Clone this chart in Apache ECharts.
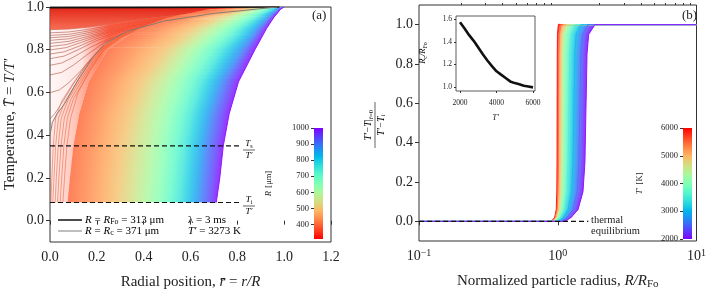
<!DOCTYPE html>
<html>
<head>
<meta charset="utf-8">
<script src="https://cdn.jsdelivr.net/npm/echarts@6/dist/echarts.min.js"></script>
<style>
  html, body { margin: 0; padding: 0; background: #fff; }
  #chart { width: 709px; height: 295px; }
</style>
</head>
<body>
<div id="chart"></div>
<script>
// ---------- panel (a): temperature profiles, T/T' vs r/R ----------
// temperature levels at which the radial position of each profile was read
const levelsT = [0.085, 0.2, 0.35, 0.5, 0.65, 0.8, 0.9, 0.95, 0.99, 1.0];
// particle radius (um) of each read profile, and its r/R at the levels above
const profileR = [395, 410, 430, 460, 500, 550, 600, 650, 700, 750, 800, 850, 900, 950, 1000];
const profileRadial = [
  [0.075, 0.085, 0.10, 0.125, 0.165, 0.245, 0.38, 0.50, 0.68, 0.88],
  [0.11, 0.12, 0.135, 0.16, 0.205, 0.29, 0.43, 0.55, 0.71, 0.89],
  [0.155, 0.165, 0.18, 0.205, 0.255, 0.345, 0.48, 0.60, 0.745, 0.90],
  [0.215, 0.225, 0.24, 0.265, 0.315, 0.41, 0.54, 0.65, 0.78, 0.915],
  [0.285, 0.295, 0.31, 0.34, 0.39, 0.49, 0.61, 0.71, 0.82, 0.93],
  [0.355, 0.365, 0.38, 0.405, 0.455, 0.55, 0.665, 0.755, 0.855, 0.94],
  [0.415, 0.425, 0.44, 0.465, 0.51, 0.60, 0.71, 0.79, 0.88, 0.95],
  [0.465, 0.475, 0.49, 0.515, 0.56, 0.645, 0.75, 0.825, 0.905, 0.96],
  [0.51, 0.52, 0.535, 0.56, 0.605, 0.69, 0.79, 0.855, 0.925, 0.97],
  [0.55, 0.56, 0.575, 0.60, 0.645, 0.73, 0.82, 0.88, 0.94, 0.975],
  [0.585, 0.595, 0.61, 0.635, 0.68, 0.765, 0.85, 0.90, 0.955, 0.98],
  [0.62, 0.63, 0.645, 0.67, 0.715, 0.80, 0.875, 0.92, 0.965, 0.985],
  [0.65, 0.66, 0.675, 0.70, 0.745, 0.83, 0.895, 0.935, 0.975, 0.99],
  [0.685, 0.695, 0.71, 0.735, 0.775, 0.85, 0.91, 0.945, 0.98, 0.995],
  [0.71, 0.725, 0.74, 0.765, 0.805, 0.875, 0.925, 0.955, 0.985, 1.0]
];
// profiles with a heated centre (R < Rc), starting at r = 0
const hotProfiles = [
  [[0, 0.894], [0.08, 0.897], [0.16, 0.905], [0.25, 0.92], [0.4, 0.945], [0.6, 0.97], [0.8, 0.99], [0.96, 1.0]],
  [[0, 0.879], [0.08, 0.883], [0.16, 0.895], [0.25, 0.912], [0.4, 0.94], [0.6, 0.968], [0.8, 0.988], [0.96, 1.0]],
  [[0, 0.867], [0.08, 0.872], [0.16, 0.887], [0.25, 0.906], [0.4, 0.936], [0.6, 0.966], [0.8, 0.987], [0.96, 1.0]],
  [[0, 0.856], [0.08, 0.862], [0.16, 0.879], [0.25, 0.90], [0.4, 0.932], [0.6, 0.964], [0.8, 0.986], [0.96, 1.0]],
  [[0, 0.844], [0.08, 0.851], [0.16, 0.871], [0.25, 0.894], [0.4, 0.928], [0.6, 0.962], [0.8, 0.985], [0.96, 1.0]],
  [[0, 0.83], [0.08, 0.839], [0.16, 0.862], [0.25, 0.888], [0.4, 0.924], [0.6, 0.96], [0.8, 0.984], [0.96, 1.0]],
  [[0, 0.815], [0.07, 0.824], [0.14, 0.847], [0.22, 0.874], [0.35, 0.91], [0.6, 0.958], [0.8, 0.983], [0.96, 1.0]],
  [[0, 0.799], [0.07, 0.81], [0.14, 0.837], [0.22, 0.868], [0.35, 0.906], [0.6, 0.956], [0.8, 0.982], [0.96, 1.0]],
  [[0, 0.78], [0.06, 0.79], [0.12, 0.815], [0.2, 0.852], [0.3, 0.888], [0.5, 0.935], [0.75, 0.975], [0.96, 1.0]],
  [[0, 0.758], [0.06, 0.77], [0.12, 0.80], [0.2, 0.843], [0.3, 0.882], [0.5, 0.932], [0.75, 0.974], [0.96, 1.0]],
  [[0, 0.727], [0.05, 0.738], [0.1, 0.765], [0.17, 0.81], [0.25, 0.852], [0.4, 0.906], [0.65, 0.96], [0.96, 1.0]],
  [[0, 0.682], [0.05, 0.694], [0.1, 0.728], [0.16, 0.778], [0.24, 0.84], [0.4, 0.90], [0.65, 0.958], [0.96, 1.0]],
  [[0, 0.599], [0.04, 0.612], [0.08, 0.645], [0.13, 0.70], [0.19, 0.775], [0.27, 0.845], [0.4, 0.90], [0.65, 0.956], [0.96, 1.0]],
  [[0, 0.477], [0.02, 0.50], [0.05, 0.55], [0.1, 0.64], [0.15, 0.72], [0.21, 0.80], [0.3, 0.87], [0.5, 0.935], [0.75, 0.975], [0.96, 1.0]]
];
// profiles just above Rc, with a cold core and a steep front near the centre
const frontProfiles = [
  [[0.004, 0.085], [0.008, 0.2], [0.014, 0.35], [0.024, 0.48], [0.05, 0.56], [0.1, 0.645], [0.16, 0.74], [0.22, 0.81], [0.32, 0.88], [0.5, 0.935], [0.97, 1.0]],
  [[0.012, 0.085], [0.017, 0.2], [0.024, 0.35], [0.036, 0.48], [0.064, 0.56], [0.11, 0.64], [0.165, 0.73], [0.225, 0.805], [0.325, 0.88], [0.5, 0.935], [0.97, 1.0]],
  [[0.022, 0.085], [0.027, 0.2], [0.035, 0.35], [0.048, 0.48], [0.077, 0.565], [0.115, 0.635], [0.17, 0.725], [0.228, 0.805], [0.33, 0.88], [0.5, 0.935], [0.97, 1.0]],
  [[0.032, 0.085], [0.038, 0.2], [0.047, 0.35], [0.061, 0.48], [0.09, 0.57], [0.12, 0.625], [0.17, 0.715], [0.23, 0.80], [0.33, 0.88], [0.5, 0.935], [0.97, 1.0]],
  [[0.043, 0.085], [0.05, 0.2], [0.059, 0.35], [0.074, 0.48], [0.1, 0.57], [0.125, 0.615], [0.17, 0.705], [0.23, 0.80], [0.33, 0.88], [0.5, 0.935], [0.97, 1.0]],
  [[0.055, 0.085], [0.062, 0.2], [0.072, 0.35], [0.088, 0.48], [0.12, 0.60], [0.17, 0.70], [0.23, 0.80], [0.33, 0.88], [0.5, 0.935], [0.97, 1.0]]
];
// reference radii: R = R_Fo (black) and R = R_c (gray)
const curveRFo = [[0, 0.996], [0.5, 0.998], [0.98, 1.0]];
const curveRc = [[0, 0.40], [0.01, 0.46], [0.03, 0.50], [0.064, 0.55], [0.12, 0.66], [0.18, 0.76], [0.235, 0.83],
  [0.33, 0.886], [0.49, 0.935], [0.7, 0.97], [0.97, 1.0]];
// dashed levels T_s/T' and T_i/T'
const levelTs = 0.35;
const levelTi = 0.085;
const dashedEnd = 0.82;

// ---------- panel (b): normalized centre temperature vs R/R_Fo ----------
const tempsB = [6000, 5500, 5000, 4500, 4000, 3500, 3000, 2500, 2000];
const curvesB = [
  [[0.1, 0], [0.9, 0], [0.95, 0.02], [0.975, 0.06], [0.985, 0.15], [0.988, 0.3], [0.99, 0.6], [0.992, 0.85], [0.995, 0.95], [1.01, 1], [10, 1]],
  [[0.1, 0], [0.91, 0], [0.96, 0.02], [0.99, 0.06], [1.003, 0.15], [1.008, 0.3], [1.012, 0.6], [1.015, 0.85], [1.022, 0.95], [1.05, 1], [10, 1]],
  [[0.1, 0], [0.92, 0], [0.975, 0.02], [1.008, 0.06], [1.025, 0.15], [1.033, 0.3], [1.038, 0.6], [1.043, 0.85], [1.055, 0.95], [1.1, 1], [10, 1]],
  [[0.1, 0], [0.93, 0], [0.99, 0.02], [1.035, 0.06], [1.06, 0.15], [1.07, 0.3], [1.078, 0.6], [1.085, 0.85], [1.1, 0.95], [1.16, 1], [10, 1]],
  [[0.1, 0], [0.95, 0], [1.015, 0.02], [1.07, 0.06], [1.105, 0.15], [1.12, 0.3], [1.13, 0.6], [1.14, 0.85], [1.16, 0.95], [1.24, 1], [10, 1]],
  [[0.1, 0], [0.98, 0], [1.05, 0.02], [1.12, 0.06], [1.17, 0.15], [1.19, 0.3], [1.205, 0.6], [1.22, 0.85], [1.25, 0.95], [1.34, 1], [10, 1]],
  [[0.1, 0], [1.02, 0], [1.1, 0.02], [1.19, 0.06], [1.26, 0.15], [1.29, 0.3], [1.31, 0.6], [1.33, 0.85], [1.36, 0.95], [1.47, 1], [10, 1]],
  [[0.1, 0], [1.07, 0], [1.17, 0.02], [1.29, 0.06], [1.38, 0.15], [1.42, 0.3], [1.445, 0.6], [1.47, 0.85], [1.51, 0.95], [1.64, 1], [10, 1]],
  [[0.1, 0], [1.13, 0], [1.25, 0.02], [1.4, 0.06], [1.52, 0.15], [1.57, 0.3], [1.6, 0.6], [1.625, 0.85], [1.67, 0.95], [1.85, 1], [10, 1]]
];
const equilibriumLine = [[0.1, 0], [1.66, 0]];

// inset: critical radius ratio vs T'
const insetT = [2000, 2250, 2500, 2750, 3000, 3250, 3500, 3750, 4000, 4250, 4500, 4750, 5000, 5250, 5500, 5750, 6000];
const insetRatio = [1.575, 1.52, 1.46, 1.41, 1.35, 1.29, 1.235, 1.185, 1.14, 1.11, 1.08, 1.05, 1.035, 1.025, 1.012, 1.005, 0.997];

// tick values
const ticksA_y = [0, 0.2, 0.4, 0.6, 0.8, 1.0];
const ticksB_y = [0, 0.2, 0.4, 0.6, 0.8, 1.0];
const minorB_x = [0.2, 0.3, 0.4, 0.5, 0.6, 0.7, 0.8, 0.9, 2, 3, 4, 5, 6, 7, 8, 9];
const insetTicksX = [2000, 4000, 6000];
const insetTicksY = [1.0, 1.2, 1.4, 1.6];
const cbTicksR = [400, 500, 600, 700, 800, 900, 1000];
const cbTicksT = [2000, 3000, 4000, 5000, 6000];

// ---------- helpers ----------
const SERIF = '"Liberation Serif", "DejaVu Serif", serif';
const INK = '#222';

// matplotlib "rainbow" colormap; a < 1 blends it over white
function rainbowRGB(x) {
  x = Math.max(0, Math.min(1, x));
  return [Math.min(1, Math.abs(2 * x - 0.5)), Math.max(0, Math.sin(Math.PI * x)), Math.max(0, Math.cos(Math.PI * x / 2))];
}
function rainbow(x, a) {
  const al = a == null ? 1 : a;
  const c = rainbowRGB(x).map(v => Math.round(255 - al * (255 - v * 255)));
  return 'rgb(' + c.join(',') + ')';
}
function rainbowA(x, a) {
  const c = rainbowRGB(x).map(v => Math.round(v * 255));
  return 'rgba(' + c.join(',') + ',' + a + ')';
}
const colorR = (R, a) => rainbow(1 - (R - 310) / 690, a);
const colorT = (T, a) => rainbow((T - 2000) / 4000, a);

function rich(size, lh) {
  const h = lh || size + 2;
  return {
    n: { fontFamily: SERIF, fontSize: size, lineHeight: h, color: INK },
    i: { fontFamily: SERIF, fontSize: size, fontStyle: 'italic', lineHeight: h, color: INK },
    s: { fontFamily: SERIF, fontSize: Math.round(size * 0.7), lineHeight: Math.round(size * 0.55), verticalAlign: 'bottom', color: INK },
    p: { fontFamily: SERIF, fontSize: Math.round(size * 0.7), lineHeight: Math.round(size * 0.55), verticalAlign: 'top', color: INK }
  };
}

function gradientStops(fn) {
  const stops = [];
  for (let k = 0; k <= 20; k++) stops.push({ offset: k / 20, color: fn(k / 20) });
  return stops;
}

// push point p by d pixels along the direction from q to p
function nudge(p, q, d) {
  const dx = p[0] - q[0], dy = p[1] - q[1], len = Math.hypot(dx, dy);
  return len < 1e-6 ? p : [p[0] + dx / len * d, p[1] + dy / len * d];
}
const lerp = (p, q, t) => [p[0] + (q[0] - p[0]) * t, p[1] + (q[1] - p[1]) * t];

// field between consecutive curves, shaded from one curve's colour to the next.
// each straight segment is cut into thin slices (same outline) so the shading runs smoothly;
// slices overlap their later neighbours by ~1px so no seams show.
const SLICES = 10;
function fieldSeries(curves, colors, xi, yi, z) {
  return {
    type: 'custom', xAxisIndex: xi, yAxisIndex: yi, z: z, silent: true, clip: true,
    data: curves.slice(1).map((c, i) => [c[0][0], c[0][1], i]),
    renderItem: function (params, api) {
      const i = params.dataIndex;
      const a = curves[i].map(p => api.coord(p));
      const b = curves[i + 1].map(p => api.coord(p));
      const last = i === curves.length - 2;
      const stops = [{ offset: 0, color: colors[i] }, { offset: 1, color: colors[i + 1] }];
      const children = [];
      for (let j = 0; j < a.length - 1; j++) {
        for (let s = 0; s < SLICES; s++) {
          const t0 = s / SLICES, t1 = (s + 1) / SLICES;
          const a0 = lerp(a[j], a[j + 1], t0), b0 = lerp(b[j], b[j + 1], t0);
          let a1 = lerp(a[j], a[j + 1], t1), b1 = lerp(b[j], b[j + 1], t1);
          const m0 = lerp(a0, a1, 0.5), m1 = lerp(b0, b1, 0.5);
          const fill = Math.hypot(m1[0] - m0[0], m1[1] - m0[1]) < 0.5 ? colors[i]
            : new echarts.graphic.LinearGradient(m0[0], m0[1], m1[0], m1[1], stops, true);
          const topSlice = j === a.length - 2 && s === SLICES - 1;
          if (!topSlice) { a1 = nudge(a1, a0, 0.8); b1 = nudge(b1, b0, 0.8); }
          let bb0 = b0, bb1 = b1;
          if (!last) { bb0 = nudge(b0, a0, 1); bb1 = nudge(b1, a1, 1); }
          children.push({ type: 'polygon', shape: { points: [a0, a1, bb1, bb0] }, style: { fill: fill } });
        }
      }
      return { type: 'group', children: children };
    }
  };
}

// polygons between two curves with a single fill
function bandSeries(polys, fills, xi, yi, z) {
  return {
    type: 'custom', xAxisIndex: xi, yAxisIndex: yi, z: z, silent: true, clip: true,
    data: polys.map((p, i) => [p[0][0], p[0][1], i]),
    renderItem: function (params, api) {
      const i = params.dataIndex;
      return { type: 'polygon', shape: { points: polys[i].map(p => api.coord(p)) }, style: { fill: fills[i] } };
    }
  };
}
const between = (a, b) => a.concat(b.slice().reverse());

// ---------- build panel (a) ----------
const FIELD_ALPHA = 0.8;
const profiles = profileRadial.map(row => row.map((r, j) => [r, levelsT[j]]));
const profileColors = profileR.map(R => colorR(R, FIELD_ALPHA));

const softBands = [
  between([[0, 0.085]].concat(curveRc), profiles[0]),
  between([[0, 0.40]].concat(hotProfiles[0]), curveRc),
  between(curveRFo, hotProfiles[0])
];
const softFills = [
  new echarts.graphic.LinearGradient(0, 0, 1, 0, [
    { offset: 0, color: rainbowA(0.92, 0.1) }, { offset: 0.1, color: rainbowA(0.9, 0.3) },
    { offset: 0.22, color: rainbowA(0.88, 0.75) }, { offset: 1, color: rainbowA(0.88, 0.8) }]),
  new echarts.graphic.LinearGradient(0, 0, 1, 0, [
    { offset: 0, color: rainbowA(0.95, 0.04) }, { offset: 0.14, color: rainbowA(0.94, 0.12) },
    { offset: 0.26, color: rainbowA(0.92, 0.78) }, { offset: 1, color: rainbowA(0.92, 0.85) }]),
  new echarts.graphic.LinearGradient(0, 0, 0, 1, [
    { offset: 0, color: 'rgba(225,25,10,0.95)' }, { offset: 1, color: 'rgba(245,85,55,0.85)' }])
];

const seriesA = [];
hotProfiles.forEach(p => seriesA.push({
  type: 'line', xAxisIndex: 0, yAxisIndex: 0, data: p, symbol: 'none', silent: true, z: 1,
  lineStyle: { color: 'rgba(160,75,55,0.8)', width: 0.7 }
}));
frontProfiles.forEach(p => seriesA.push({
  type: 'line', xAxisIndex: 0, yAxisIndex: 0, data: p, symbol: 'none', silent: true, z: 1,
  lineStyle: { color: 'rgba(225,115,85,0.85)', width: 0.7 }
}));
seriesA.push(bandSeries(softBands, softFills, 0, 0, 2));
seriesA.push(fieldSeries(profiles, profileColors, 0, 0, 3));
seriesA.push({
  type: 'line', xAxisIndex: 0, yAxisIndex: 0, data: profiles[profiles.length - 1], symbol: 'none', silent: true, z: 4,
  lineStyle: { color: colorR(1000, 0.9), width: 1 }
});
seriesA.push({
  type: 'line', xAxisIndex: 0, yAxisIndex: 0, data: curveRFo, symbol: 'none', silent: true, z: 5,
  lineStyle: { color: '#111', width: 1.5 }
});
seriesA.push({
  type: 'line', xAxisIndex: 0, yAxisIndex: 0, data: curveRc, symbol: 'none', silent: true, z: 5,
  lineStyle: { color: 'rgba(130,120,115,0.95)', width: 1 }
});
[levelTs, levelTi].forEach(v => seriesA.push({
  type: 'line', xAxisIndex: 0, yAxisIndex: 0, data: [[0, v], [dashedEnd, v]], symbol: 'none', silent: true, z: 6,
  lineStyle: { color: '#111', width: 1.1, type: [5, 3] }
}));

// ---------- build panel (b) ----------
const colorsB = tempsB.map(T => colorT(T, 0.82));
const seriesB = [fieldSeries(curvesB, colorsB, 1, 1, 2)];
curvesB.forEach((c, k) => seriesB.push({
  type: 'line', xAxisIndex: 1, yAxisIndex: 1, data: c, symbol: 'none', silent: true, z: 3,
  lineStyle: { color: colorT(tempsB[k], 0.9), width: 1 }
}));
seriesB.push({
  type: 'line', xAxisIndex: 1, yAxisIndex: 1, data: equilibriumLine, symbol: 'none', silent: true, z: 6,
  lineStyle: { color: '#111', width: 1.1, type: [5, 3] }
});
seriesB.push({
  type: 'line', xAxisIndex: 3, yAxisIndex: 2, data: insetT.map((t, k) => [t, insetRatio[k]]),
  symbol: 'none', silent: true, z: 6, lineStyle: { color: '#111', width: 2.6 }
});

// colorbars (stacked: transparent base + gradient)
const colorbarSeries = [
  { type: 'bar', xAxisIndex: 4, yAxisIndex: 3, stack: 'a', data: [310], barWidth: '100%', silent: true,
    itemStyle: { color: 'rgba(0,0,0,0)' } },
  { type: 'bar', xAxisIndex: 4, yAxisIndex: 3, stack: 'a', data: [690], barWidth: '100%', silent: true,
    itemStyle: { color: new echarts.graphic.LinearGradient(0, 1, 0, 0, gradientStops(t => rainbow(1 - t))) } },
  { type: 'bar', xAxisIndex: 5, yAxisIndex: 4, stack: 'b', data: [2000], barWidth: '100%', silent: true,
    itemStyle: { color: 'rgba(0,0,0,0)' } },
  { type: 'bar', xAxisIndex: 5, yAxisIndex: 4, stack: 'b', data: [4000], barWidth: '100%', silent: true,
    itemStyle: { color: new echarts.graphic.LinearGradient(0, 1, 0, 0, gradientStops(t => rainbow(t))) } }
];

// ---------- axes ----------
const tickLabel = size => ({ color: INK, fontFamily: SERIF, fontSize: size });
const plain = v => String(v);
function valueAxis(extra) {
  return Object.assign({
    type: 'value', axisLine: { show: false }, splitLine: { show: false },
    axisTick: { show: true, inside: false, length: 4, lineStyle: { color: '#333' } }
  }, extra);
}

function fraction(x, y, num, den, size, rot, half) {
  return {
    type: 'group', x: x, y: y, rotation: rot,
    children: [
      { type: 'text', x: 0, y: -0.5, style: { text: num, rich: rich(size), align: 'center', verticalAlign: 'bottom' } },
      { type: 'line', shape: { x1: -half, y1: 0, x2: half, y2: 0 }, style: { stroke: INK, lineWidth: 0.7 } },
      { type: 'text', x: 0, y: 0.5, style: { text: den, rich: rich(size), align: 'center', verticalAlign: 'top' } }
    ]
  };
}
// legend entry for panel (a): a short line sample and its label
function legendEntry(y, color, text) {
  return [
    { type: 'line', shape: { x1: 58, y1: y, x2: 82, y2: y }, style: { stroke: color, lineWidth: 1.5 } },
    { type: 'text', x: 85, y: y, style: { text: text, rich: rich(11, 11), verticalAlign: 'middle' } }
  ];
}

const option = {
  animation: false,
  backgroundColor: '#fff',
  grid: [
    { left: 50, top: 5, width: 281, height: 242, show: true, borderColor: '#333', borderWidth: 1 },
    { left: 419, top: 5, width: 280, height: 242, show: true, borderColor: '#333', borderWidth: 1 },
    { left: 456, top: 16, width: 79, height: 75, show: true, borderColor: '#333', borderWidth: 0.8, backgroundColor: '#fff', z: 5 },
    { left: 314, top: 128, width: 9, height: 111 },
    { left: 683, top: 128, width: 9, height: 111 }
  ],
  xAxis: [
    valueAxis({ gridIndex: 0, min: 0, max: 1.2, interval: 0.2,
      axisLabel: Object.assign(tickLabel(14), { margin: 8, formatter: v => v.toFixed(1) }),
      name: '{n|Radial position, }{i|r̄}{n| = }{i|r/R}', nameLocation: 'middle', nameGap: 32,
      nameTextStyle: { rich: rich(15) } }),
    { type: 'log', logBase: 10, gridIndex: 1, min: 0.1, max: 10,
      axisLine: { show: false }, splitLine: { show: false }, minorTick: { show: false },
      axisTick: { show: true, length: 4, lineStyle: { color: '#333' } },
      axisLabel: { margin: 7, color: INK, rich: rich(14),
        formatter: v => '{n|10}{p|' + String(Math.round(Math.log10(v))).replace('-', '−') + '}' },
      name: '{n|Normalized particle radius, }{i|R/R}{s|Fo}', nameLocation: 'middle', nameGap: 32,
      nameTextStyle: { rich: rich(15) } },
    { type: 'log', logBase: 10, gridIndex: 1, min: 0.1, max: 10,
      axisLine: { show: false }, splitLine: { show: false }, axisLabel: { show: false },
      axisTick: { show: true, length: 2, customValues: minorB_x, lineStyle: { color: '#333' } } },
    valueAxis({ gridIndex: 2, min: 1780, max: 6110,
      axisTick: { show: true, length: 2, customValues: insetTicksX, lineStyle: { color: '#333' } },
      axisLabel: Object.assign(tickLabel(7.5), { margin: 8, customValues: insetTicksX, formatter: plain }),
      name: '{i|T′}', nameLocation: 'middle', nameGap: 22, nameTextStyle: { rich: rich(8.5) } }),
    { type: 'category', gridIndex: 3, data: ['R'], show: false },
    { type: 'category', gridIndex: 4, data: ['T'], show: false }
  ],
  yAxis: [
    valueAxis({ gridIndex: 0, min: -0.1, max: 1.0,
      axisTick: { show: true, length: 4, customValues: ticksA_y, lineStyle: { color: '#333' } },
      axisLabel: Object.assign(tickLabel(14), { margin: 6, customValues: ticksA_y, formatter: v => v.toFixed(1) }),
      name: '{n|Temperature, }{i|T̄}{n| = }{i|T/T′}', nameLocation: 'middle', nameGap: 31,
      nameTextStyle: { rich: rich(15) } }),
    valueAxis({ gridIndex: 1, min: -0.1, max: 1.1,
      axisTick: { show: true, length: 4, customValues: ticksB_y, lineStyle: { color: '#333' } },
      axisLabel: Object.assign(tickLabel(14), { margin: 6, customValues: ticksB_y, formatter: v => v.toFixed(1) }) }),
    valueAxis({ gridIndex: 2, min: 0.965, max: 1.63,
      axisTick: { show: true, length: 2, customValues: insetTicksY, lineStyle: { color: '#333' } },
      axisLabel: Object.assign(tickLabel(7.5), { margin: 4, customValues: insetTicksY, formatter: v => v.toFixed(1) }) }),
    valueAxis({ gridIndex: 3, min: 310, max: 1000, position: 'left',
      axisTick: { show: true, length: 3, customValues: cbTicksR, lineStyle: { color: '#333' } },
      axisLabel: Object.assign(tickLabel(8.5), { margin: 5, customValues: cbTicksR, formatter: plain }),
      name: '{i|R} {n|[μm]}', nameLocation: 'middle', nameGap: 39, nameTextStyle: { rich: rich(8.5) } }),
    valueAxis({ gridIndex: 4, min: 2000, max: 6000, interval: 1000, position: 'left',
      axisTick: { show: true, length: 3, lineStyle: { color: '#333' } },
      axisLabel: Object.assign(tickLabel(8.5), { margin: 5, customValues: cbTicksT, formatter: plain }),
      name: '{i|T′} {n|[K]}', nameLocation: 'middle', nameGap: 37, nameTextStyle: { rich: rich(8.5) } })
  ],
  graphic: [
    { type: 'text', x: 312, y: 9, style: { text: '(a)', font: '13px ' + SERIF, fill: INK } },
    { type: 'text', x: 682, y: 9, style: { text: '(b)', font: '13px ' + SERIF, fill: INK } },
    ...legendEntry(220, '#111', '{i|R}{n| = }{i|R}{s|Fo}{n| = 313 μm}'),
    ...legendEntry(231, '#aaa', '{i|R}{n| = }{i|R}{s|c}{n| = 371 μm}'),
    { type: 'text', x: 188, y: 220, style: { text: '{n|λ = 3 ms}', rich: rich(11, 11), verticalAlign: 'middle' } },
    { type: 'text', x: 188, y: 231, style: { text: '{i|T′}{n| = 3273 K}', rich: rich(11, 11), verticalAlign: 'middle' } },
    { type: 'text', x: 591, y: 215, style: { text: 'thermal\nequilibrium', font: '10.5px ' + SERIF, fill: INK, lineHeight: 10.5 } },
    { type: 'text', x: 423, y: 53, rotation: Math.PI / 2, z: 10,
      style: { text: '{i|R}{s|c}{i|/R}{s|Fo}', rich: rich(8.5), align: 'center', verticalAlign: 'middle' } },
    fraction(249, 150, '{i|T}{s|s}', '{i|T′}', 9, 0, 6),
    fraction(249, 206, '{i|T}{s|i}', '{i|T′}', 9, 0, 6),
    fraction(375, 125, '{i|T′−T}{n||}{s|r̄=0}', '{i|T′−T}{s|i}', 9.5, Math.PI / 2, 23)
  ],
  series: seriesA.concat(seriesB, colorbarSeries)
};

const chart = echarts.init(document.getElementById('chart'), null, { renderer: 'canvas' });
chart.setOption(option);
</script>
</body>
</html>
